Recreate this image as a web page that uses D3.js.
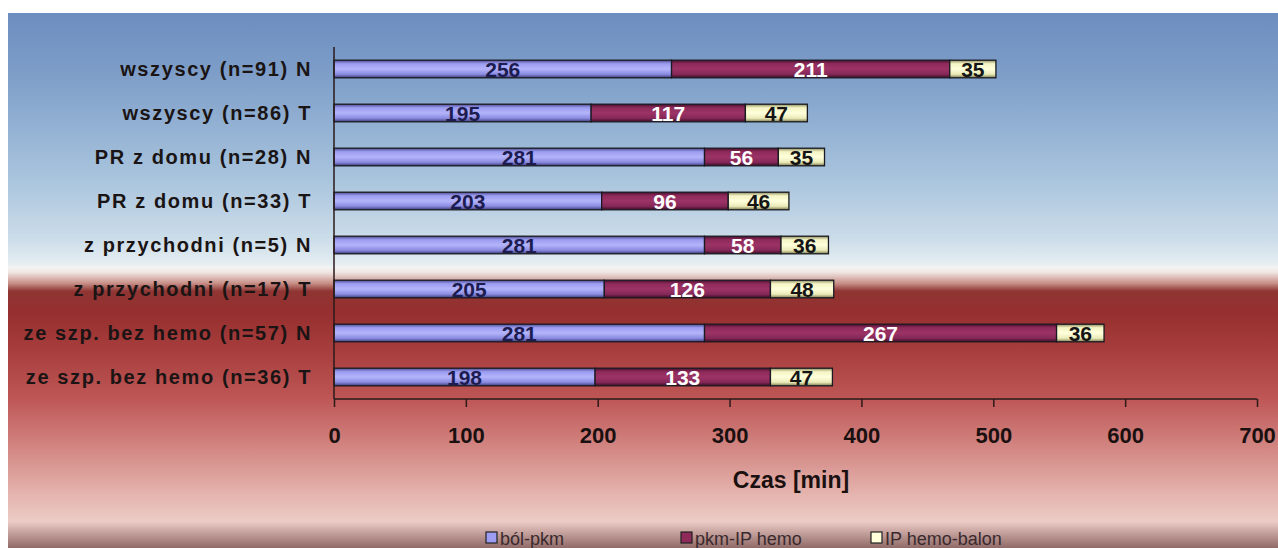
<!DOCTYPE html>
<html><head><meta charset="utf-8">
<script src="https://cdn.jsdelivr.net/npm/d3@7"></script>
<style>body{margin:0;background:#fff;}svg{display:block;}</style>
</head><body>
<svg id="chart" width="1278" height="548"></svg>
<script>
const categories = ["wszyscy (n=91) N","wszyscy (n=86) T","PR z domu (n=28) N","PR z domu (n=33) T","z przychodni (n=5) N","z przychodni (n=17) T","ze szp. bez hemo (n=57) N","ze szp. bez hemo (n=36) T"];
const bolPkm = [256,195,281,203,281,205,281,198];
const pkmIpHemo = [211,117,56,96,58,126,267,133];
const ipHemoBalon = [35,47,35,46,36,48,36,47];
const seriesNames = ["ból-pkm","pkm-IP hemo","IP hemo-balon"];
const xTicks = [0,100,200,300,400,500,600,700];

const svg = d3.select("#chart");
const defs = svg.append("defs");

// background gradient
const bg = defs.append("linearGradient").attr("id","bg").attr("x1",0).attr("y1",0).attr("x2",0).attr("y2",1);
[[0,"#6c8dbf"],[0.12,"#7f9fc9"],[0.3,"#a6c2dc"],[0.42,"#cbdce9"],[0.47,"#e6eef2"],[0.475,"#f3f5f3"],[0.485,"#f0e4e0"],[0.505,"#c89088"],[0.52,"#8f3533"],[0.56,"#962f2f"],[0.62,"#a53b3b"],[0.72,"#be5656"],[0.82,"#d48a86"],[0.9,"#e5b4ae"],[0.95,"#ecccc6"],[0.97,"#c8a4a0"],[1,"#8f6a66"]]
  .forEach(([o,c])=>bg.append("stop").attr("offset",o).attr("stop-color",c));
svg.append("rect").attr("x",8).attr("y",13).attr("width",1270).attr("height",535).attr("fill","url(#bg)");

const colors = [
  ["#4c4c90","#9c9cf2","#b4b4fa","#8a8ae0","#3c3c78"],
  ["#4a1030","#8e2a5a","#9c3366","#842858","#3a0c26"],
  ["#8a8a60","#f4f4c4","#ffffdc","#eaeab8","#7a7a50"]
];
colors.forEach((c,i)=>{
  const g = defs.append("linearGradient").attr("id","g"+i).attr("x1",0).attr("y1",0).attr("x2",0).attr("y2",1);
  [[0,c[0]],[0.2,c[1]],[0.5,c[2]],[0.8,c[3]],[1,c[4]]].forEach(([o,cc])=>g.append("stop").attr("offset",o).attr("stop-color",cc));
});

const x = d3.scaleLinear().domain([0,700]).range([334,1257]);
const y = d3.scaleBand().domain(categories).range([47,399]).paddingInner(0.6).paddingOuter(0.3);

const data = categories.map((c,i)=>({cat:c, v:[bolPkm[i],pkmIpHemo[i],ipHemoBalon[i]]}));
const stack = d3.stack().keys([0,1,2]).value((d,k)=>d.v[k]);
const stacked = stack(data);

const labelColors = ["#1c1c50","#ffffff","#151515"];
stacked.forEach((s,k)=>{
  const g = svg.append("g");
  g.selectAll("rect").data(s).join("rect")
    .attr("x",d=>x(d[0])).attr("width",d=>x(d[1])-x(d[0]))
    .attr("y",d=>y(d.data.cat)).attr("height",y.bandwidth())
    .attr("fill","url(#g"+k+")").attr("stroke","#1a1a22").attr("stroke-width",1.3);
  g.selectAll("text").data(s).join("text")
    .attr("x",d=>(x(d[0])+x(d[1]))/2).attr("y",d=>y(d.data.cat)+y.bandwidth()/2+7.5)
    .attr("text-anchor","middle")
    .attr("font-family","'Liberation Sans',Arial,sans-serif")
    .attr("font-weight","bold").attr("font-size",21)
    .attr("fill",labelColors[k])
    .text(d=>d.data.v[k]);
});

// axes
const xAxis = d3.axisBottom(x).tickValues(xTicks).tickSize(8).tickFormat(d3.format("d"));
const ax = svg.append("g").attr("transform","translate(0,399)").call(xAxis);
ax.select(".domain").attr("stroke","#2a1a1a").attr("stroke-width",1.5).attr("d","M334,0H1257");
ax.selectAll(".tick line").attr("stroke","#2a1a1a").attr("stroke-width",1.5);
ax.selectAll(".tick text").attr("y",44).attr("dy",0).attr("fill","#1a1010")
  .attr("font-family","'Liberation Sans',Arial,sans-serif").attr("font-weight","bold").attr("font-size",22);

const yAxis = d3.axisLeft(y).tickSize(0).tickPadding(22);
const ay = svg.append("g").attr("transform","translate(334,0)").call(yAxis);
ay.select(".domain").attr("stroke","#2a1a1a").attr("stroke-width",1.5).attr("d","M0,47V399");
ay.selectAll(".tick text").attr("fill","#1a1414").attr("dy","0.36em")
  .attr("font-family","'Liberation Sans',Arial,sans-serif").attr("font-weight","bold").attr("font-size",20)
  .attr("letter-spacing","1.6px");

svg.append("text").attr("x",791).attr("y",488).attr("text-anchor","middle")
  .attr("font-family","'Liberation Sans',Arial,sans-serif").attr("font-weight","bold").attr("font-size",23)
  .attr("fill","#1a1010").text("Czas [min]");

// legend
const legX = [486,681,871];
const leg = svg.append("g");
seriesNames.forEach((n,i)=>{
  leg.append("rect").attr("x",legX[i]).attr("y",532).attr("width",11).attr("height",11)
    .attr("fill",["#9c9cf2","#8e2a5a","#ffffdc"][i]).attr("stroke","#222").attr("stroke-width",1.2);
  leg.append("text").attr("x",legX[i]+14).attr("y",545)
    .attr("font-family","'Liberation Sans',Arial,sans-serif").attr("font-size",18).attr("fill","#3a2a2e")
    .text(n);
});
</script>
</body></html>
